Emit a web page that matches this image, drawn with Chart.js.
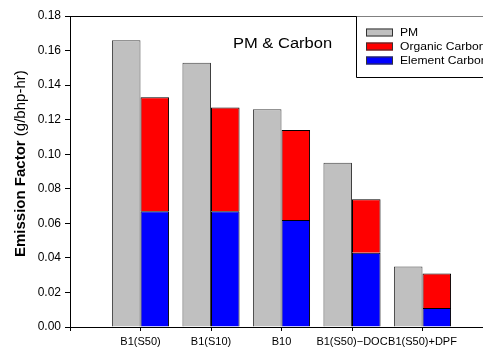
<!DOCTYPE html>
<html>
<head>
<meta charset="utf-8">
<script src="https://cdn.jsdelivr.net/npm/chart.js@4"></script>
<style>
html,body{margin:0;padding:0;overflow:hidden;background:#fff;}
#wrap{position:absolute;left:0;top:0;width:497px;height:349px;}
</style>
</head>
<body>
<div id="wrap"><canvas id="c" width="497" height="349"></canvas></div>
<script>
const categories = ['B1(S50)', 'B1(S10)', 'B10', 'B1(S50)\u2212DOC', 'B1(S50)+DPF'];
const pmValues = [0.166, 0.153, 0.126, 0.095, 0.035];
const organicCarbon = [0.066, 0.060, 0.052, 0.031, 0.020];
const elementCarbon = [0.067, 0.067, 0.062, 0.043, 0.011];
const yTicks = [0, 0.02, 0.04, 0.06, 0.08, 0.10, 0.12, 0.14, 0.16, 0.18];
const chartTitle = 'PM & Carbon';
const yTitleBold = 'Emission Factor';
const yTitleRest = '(g/bhp-hr)';

const pad = arr => [null, ...arr, null];
const labels = ['', ...categories, ''];
const FONT = '"Liberation Sans", Arial, sans-serif';

const overlay = {
  id: 'overlay',
  afterDraw(chart) {
    const ctx = chart.ctx, a = chart.chartArea;
    ctx.save();
    // top frame line
    ctx.strokeStyle = '#000'; ctx.lineWidth = 1;
    const ty = Math.round(a.top) + 0.5;
    ctx.beginPath(); ctx.moveTo(a.left, ty); ctx.lineTo(chart.width, ty); ctx.stroke();
    // title
    ctx.fillStyle = '#000';
    ctx.save();
    ctx.translate(233, 47.5);
    ctx.scale(1.18, 1);
    ctx.font = '14px ' + FONT;
    ctx.textBaseline = 'alphabetic'; ctx.textAlign = 'left';
    ctx.fillText(chartTitle, 0, 0);
    ctx.restore();
    // legend box
    const bx = 356.5, bh = 61;
    ctx.fillStyle = '#fff';
    ctx.fillRect(bx, ty, chart.width - bx, bh);
    ctx.strokeStyle = '#000';
    ctx.beginPath(); ctx.moveTo(chart.width, ty + bh); ctx.lineTo(bx, ty + bh); ctx.lineTo(bx, ty); ctx.stroke();
    const order = [0, 2, 1];
    const rows = [32.5, 46.5, 60.5];
    order.forEach((di, i) => {
      const ds = chart.data.datasets[di];
      const y = rows[i];
      ctx.fillStyle = ds.backgroundColor;
      ctx.fillRect(366, y - 4, 27, 8);
      ctx.strokeStyle = '#333';
      ctx.strokeRect(366.5, y - 3.5, 26, 7);
      ctx.fillStyle = '#000';
      ctx.save();
      ctx.translate(400, y);
      ctx.scale(1.1, 1);
      ctx.font = '11px ' + FONT;
      ctx.textBaseline = 'middle';
      ctx.fillText(ds.label, 0, 0);
      ctx.restore();
    });
    // y-axis title
    ctx.translate(25, 257);
    ctx.rotate(-Math.PI / 2);
    ctx.textBaseline = 'alphabetic'; ctx.textAlign = 'left';
    ctx.font = 'bold 15px ' + FONT;
    ctx.fillText(yTitleBold, 0, 0);
    const w = ctx.measureText(yTitleBold + ' ').width;
    ctx.font = '15px ' + FONT;
    ctx.fillText(yTitleRest, w, 0);
    ctx.restore();
  }
};

new Chart(document.getElementById('c'), {
  type: 'bar',
  data: {
    labels: labels,
    datasets: [
      { label: 'PM', data: pad(pmValues), stack: 'pm', backgroundColor: '#c0c0c0', borderColor: '#404040', borderWidth: 1 },
      { label: 'Element Carbon', data: pad(elementCarbon), stack: 'carbon', backgroundColor: '#0000ff', borderColor: '#000', borderWidth: 1 },
      { label: 'Organic Carbon', data: pad(organicCarbon), stack: 'carbon', backgroundColor: '#ff0000', borderColor: '#000', borderWidth: 1 }
    ]
  },
  options: {
    responsive: false,
    animation: false,
    layout: { padding: { top: 16, left: 0, right: 3, bottom: 0 } },
    categoryPercentage: 0.81,
    barPercentage: 1.0,
    plugins: { legend: { display: false }, tooltip: { enabled: false }, title: { display: false } },
    scales: {
      x: {
        stacked: true,
        offset: false,
        grid: { display: true, offset: false, drawOnChartArea: false, drawTicks: true, tickLength: 4, color: '#000' },
        border: { display: true, color: '#000', width: 1 },
        ticks: { autoSkip: false, maxRotation: 0, padding: 4, color: '#000', font: { family: FONT, size: 11 } },
        afterFit: s => { s.height = 22; }
      },
      y: {
        stacked: true,
        min: 0, max: 0.18,
        afterBuildTicks: s => { s.ticks = yTicks.map(v => ({ value: v })); },
        grid: { display: true, drawOnChartArea: false, drawTicks: true, tickLength: 5, color: '#000' },
        border: { display: true, color: '#000', width: 1 },
        ticks: { padding: 4, color: '#000', callback: v => Number(v).toFixed(2), font: { family: FONT, size: 12 } },
        afterFit: s => { s.width = 70; }
      }
    }
  },
  plugins: [overlay]
});
</script>
</body>
</html>
